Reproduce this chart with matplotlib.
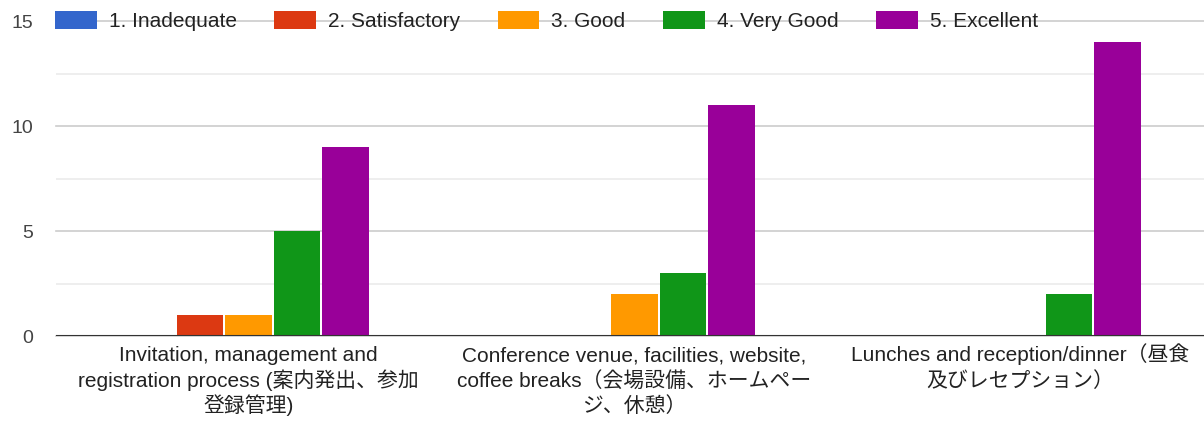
import numpy as np
import matplotlib
matplotlib.use('Agg')
from matplotlib import pyplot as plt

plt.rcParams['font.family'] = ['Liberation Sans', 'Noto Sans CJK JP', 'DejaVu Sans']

categories = [
    ['Invitation, management and', 'registration process (案内発出、参加', '登録管理)'],
    ['Conference venue, facilities, website,', 'coffee breaks（会場設備、ホームペー', 'ジ、休憩）'],
    ['Lunches and reception/dinner（昼食', '及びレセプション）'],
]
ratings = ['1. Inadequate', '2. Satisfactory', '3. Good', '4. Very Good', '5. Excellent']
counts = [
    [0, 0, 0],    # Inadequate
    [1, 0, 0],    # Satisfactory
    [1, 2, 0],    # Good
    [5, 3, 2],    # Very Good
    [9, 11, 14],  # Excellent
]
colors = ['#3366cc', '#dc3912', '#ff9900', '#109618', '#990099']

fig = plt.figure(figsize=(12.04, 4.21), dpi=100)
# plot area runs a little past the right edge (cropped like the original)
ax = fig.add_axes([0.0461, 0.2019, 0.9618, 0.7481])

x = np.arange(len(categories))
step = 0.1256
for i, (name, vals) in enumerate(zip(ratings, counts)):
    ax.bar(x + (i - 2) * step, vals, width=step - 0.004, color=colors[i], label=name, zorder=3)

ax.set_xlim(-0.5, 2.5)
ax.set_ylim(0, 15)
ax.set_yticks([0, 5, 10, 15])
ax.set_yticks([2.5, 7.5, 12.5], minor=True)
ax.grid(axis='y', which='major', color='#cccccc', linewidth=1.2, zorder=0)
ax.grid(axis='y', which='minor', color='#ebebeb', linewidth=1.2, zorder=0)
for g in ax.get_ygridlines():
    g.set_clip_on(False)
ax.axhline(0, color='#333333', linewidth=1.5, zorder=4)

for s in ax.spines.values():
    s.set_visible(False)
ax.tick_params(axis='both', which='both', length=0)
ax.tick_params(axis='y', labelsize=14, labelcolor='#444444', pad=16)
ax.set_xticks([])

# category labels, one line at a time for even spacing
for xi, lines in zip(x, categories):
    for k, line in enumerate(lines):
        ax.annotate(line, xy=(xi, 0), xycoords=('data', 'axes fraction'),
                    xytext=(0, -18 - 18.4 * k), textcoords='offset points',
                    ha='center', va='baseline', fontsize=15, color='#222222',
                    annotation_clip=False)

ax.legend(loc='center left', bbox_to_anchor=(0.0457, 0.950), bbox_transform=fig.transFigure,
          ncol=5, frameon=False, fontsize=15, handlelength=2.0, handleheight=1.0,
          handletextpad=0.58, columnspacing=1.8, borderpad=0, borderaxespad=0,
          labelcolor='#222222')

fig.savefig('out.png', dpi=100)
